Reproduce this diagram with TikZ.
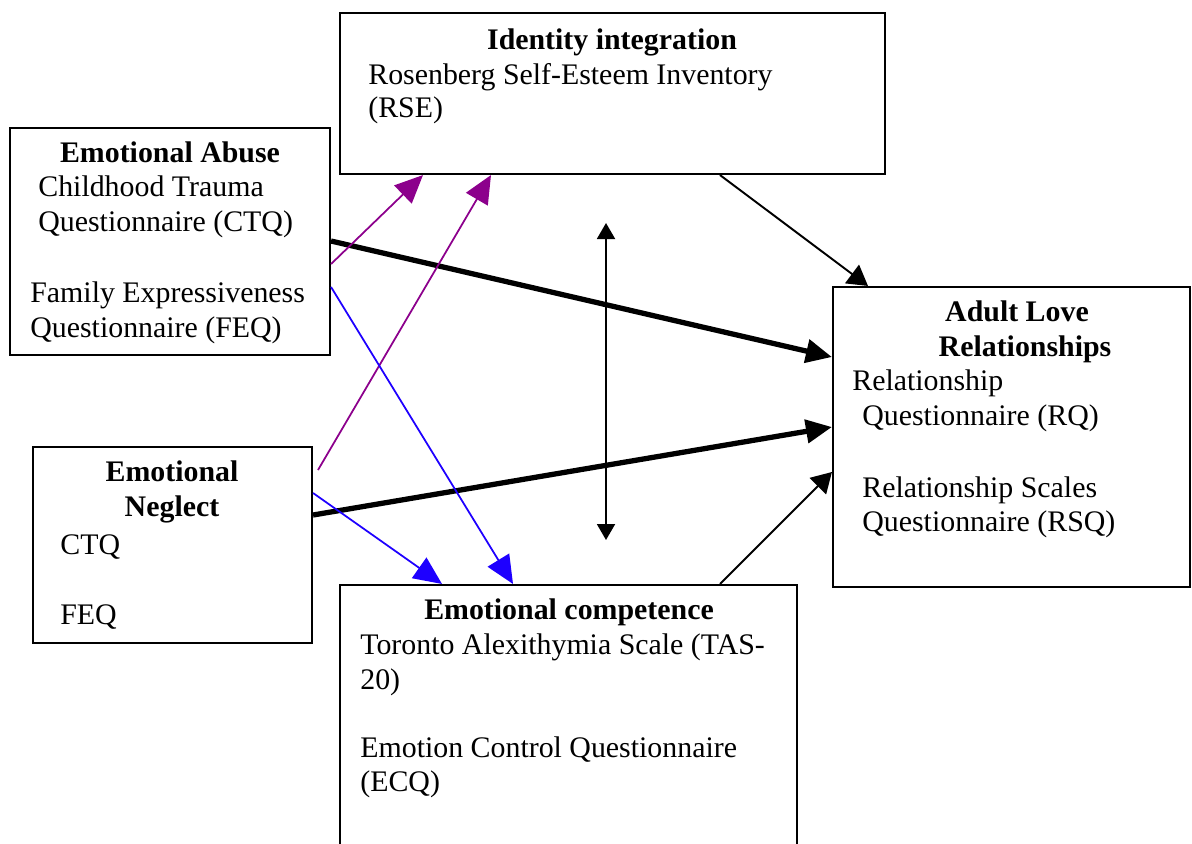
\documentclass[tikz,border=0pt]{standalone}
\usepackage{fontspec}
\setmainfont{Liberation Serif}
\usetikzlibrary{arrows.meta,fit}

\definecolor{idpurple}{RGB}{140,0,140}
\definecolor{ecblue}{RGB}{30,0,255}

\tikzset{
  box/.style={draw, line width=1.2pt, inner sep=0pt},
  lbl/.style={anchor=base west, inner sep=0pt, font=\fontsize{17}{19}\selectfont},
  ttl/.style={anchor=base, inner sep=0pt, font=\fontsize{17}{19}\selectfont\bfseries},
  bigarrow/.style={line width=3pt, -{Triangle[length=0.52cm,width=0.46cm]}},
  thinarrow/.style={line width=1.1pt, -{Triangle[length=0.4cm,width=0.46cm]}},
  purplearrow/.style={idpurple, line width=1pt, -{Triangle[length=0.56cm,width=0.5cm]}},
  bluearrow/.style={ecblue, line width=1pt, -{Triangle[length=0.56cm,width=0.5cm]}}
}

\begin{document}
\begin{tikzpicture}[x=0.02cm,y=-0.02cm]
    \clip (0,0) rectangle (1192,843);

    % Identity integration
    \node[box, fit={(340,13) (885,174)}] (ident) {};
    \node[ttl] (identT) at (612,49) {Identity integration};
    \node[lbl] (rse1) at (368,84) {Rosenberg Self-Esteem Inventory};
    \node[lbl] (rse2) at (368,117) {(RSE)};

    % Emotional abuse
    \node[box, fit={(10,128) (330,355)}] (abuse) {};
    \node[ttl] (abuseT) at (170,162) {Emotional Abuse};
    \node[lbl] (ctq1) at (38,196) {Childhood Trauma};
    \node[lbl] (ctq2) at (38,231) {Questionnaire (CTQ)};
    \node[lbl] (feq1) at (30,302) {Family Expressiveness};
    \node[lbl] (feq2) at (30,337) {Questionnaire (FEQ)};

    % Emotional neglect
    \node[box, fit={(33,447) (312,643)}] (neglect) {};
    \node[ttl] (neglectT1) at (172,481) {Emotional};
    \node[ttl] (neglectT2) at (172,516) {Neglect};
    \node[lbl] (ctq3) at (60,554) {CTQ};
    \node[lbl] (feq3) at (60,624) {FEQ};

    % Adult love relationships
    \node[box, fit={(833,287) (1190,587)}] (adult) {};
    \node[ttl] (adultT1) at (1017,321) {Adult Love};
    \node[ttl] (adultT2) at (1025,356) {Relationships};
    \node[lbl] (rq1) at (852,390) {Relationship};
    \node[lbl] (rq2) at (862,425) {Questionnaire (RQ)};
    \node[lbl] (rsq1) at (862,497) {Relationship Scales};
    \node[lbl] (rsq2) at (862,531) {Questionnaire (RSQ)};

    % Emotional competence
    \node[box, fit={(340,585) (797,880)}] (comp) {};
    \node[ttl] (compT) at (569,619) {Emotional competence};
    \node[lbl] (tas1) at (360,654) {Toronto Alexithymia Scale (TAS-};
    \node[lbl] (tas2) at (360,689) {20)};
    \node[lbl] (ecq1) at (360,757) {Emotion Control Questionnaire};
    \node[lbl] (ecq2) at (360,791) {(ECQ)};

    % free ends
    \coordinate (pstart) at (318,470);
    \coordinate (vtop) at (606,223);
    \coordinate (vbot) at (606,540);

    % direct paths
    \draw[bigarrow] (abuse.east |- 0,241) -- (adult.west |- 0,357);
    \draw[bigarrow] (neglect.east |- 0,515) -- (adult.west |- 0,427);

    % to identity
    \draw[purplearrow] (abuse.east |- 0,264) -- (ident.south -| 423,0);
    \draw[purplearrow] (pstart) -- (ident.south -| 491,0);

    % to competence
    \draw[bluearrow] (abuse.east |- 0,287) -- (comp.north -| 513,0);
    \draw[bluearrow] (neglect.east |- 0,493) -- (comp.north -| 442,0);

    % mediators
    \draw[thinarrow] (ident.south -| 720,0) -- (adult.north -| 868,0);
    \draw[thinarrow] (comp.north -| 720,0) -- (adult.west |- 0,472);

    \draw[line width=1.1pt, {Triangle[length=0.32cm,width=0.36cm]}-{Triangle[length=0.32cm,width=0.36cm]}] (vtop) -- (vbot);

\end{tikzpicture}
\end{document}
